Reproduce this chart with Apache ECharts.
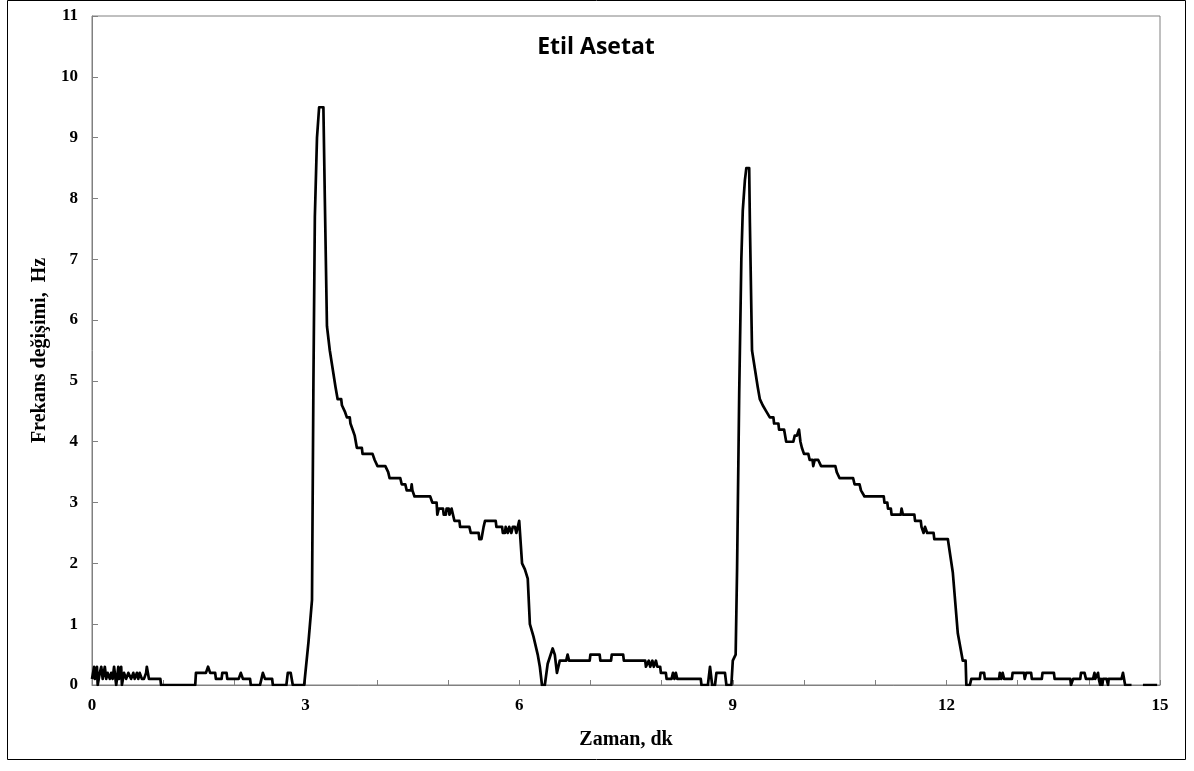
<!DOCTYPE html>
<html>
<head>
<meta charset="utf-8">
<script src="https://cdn.jsdelivr.net/npm/echarts@6/dist/echarts.min.js"></script>
<style>html,body{margin:0;padding:0;background:#fff;}#chart{width:1194px;height:771px;}</style>
</head>
<body>
<div id="chart"></div>
<script>
// Time (minutes)
const timeMin = [
 0.00,0.03,0.04,0.07,0.08,0.11,0.13,0.15,0.18,0.20,0.22,0.25,0.27,0.29,0.31,0.34,0.37,0.38,0.41,0.42,
 0.45,0.48,0.51,0.53,0.55,0.58,0.60,0.63,0.65,0.67,0.70,0.73,0.76,0.77,0.80,0.83,0.86,0.90,0.93,0.96,0.97,
 1.45,1.46,1.60,1.63,1.66,1.73,1.74,1.82,1.83,1.89,1.90,2.06,2.09,2.12,2.22,2.23,2.36,2.40,2.43,2.53,2.54,
 2.73,2.75,2.79,2.82,2.98,
 3.04,3.09,3.11,3.13,3.16,3.19,3.25,3.27,3.30,3.31,3.34,3.38,3.42,3.45,3.50,3.51,3.55,3.58,3.62,3.63,3.66,
 3.69,3.72,3.79,3.80,3.94,3.97,4.01,4.12,4.16,4.18,4.33,4.35,4.40,4.42,4.48,4.49,4.50,4.53,4.75,4.78,4.84,
 4.85,4.87,4.93,4.94,4.97,4.98,5.01,5.02,5.05,5.07,5.09,5.16,5.17,5.30,5.32,5.43,5.44,5.47,5.50,5.52,5.67,
 5.68,5.76,5.77,5.80,5.81,5.84,5.86,5.89,5.91,5.94,5.96,5.98,6.00,6.01,
 6.04,6.08,6.12,6.15,6.20,6.26,6.29,6.32,6.36,6.40,6.47,6.50,6.53,6.57,6.66,6.68,6.70,6.99,7.00,7.13,7.14,
 7.29,7.30,7.46,7.47,7.77,7.78,7.82,7.84,7.87,7.89,7.92,7.94,7.98,7.99,8.06,8.07,8.14,8.16,8.18,8.20,8.22,
 8.55,8.56,8.65,8.68,8.71,8.75,8.77,8.89,8.91,8.98,9.00,9.04,
 9.06,9.09,9.12,9.14,9.17,9.19,9.23,9.24,9.27,9.31,9.35,9.38,9.42,9.47,9.52,9.57,9.58,9.64,9.65,9.72,9.75,
 9.85,9.87,9.90,9.93,9.95,9.97,10.00,10.06,10.08,10.12,10.13,10.15,10.20,10.24,10.44,10.46,10.50,10.69,
 10.71,10.78,10.80,10.85,11.12,11.13,11.17,11.18,11.22,11.23,11.36,11.37,11.39,11.55,11.56,11.64,11.65,11.68,11.70,11.73,11.82,11.83,12.02,
 12.09,12.16,12.23,12.27,12.28,12.33,12.35,12.47,12.48,12.53,12.54,12.74,12.75,12.77,12.79,12.81,12.92,
 12.93,13.09,13.10,13.12,13.19,13.20,13.34,13.35,13.51,13.52,13.74,13.75,13.78,13.88,13.89,13.94,13.96,
 14.06,14.08,14.09,14.13,14.14,14.16,14.17,14.19,14.20,14.25,14.27,14.28,14.40,14.46,14.48,14.51,14.60,
 14.68,14.76,14.96
];
// Frequency change (Hz); null = gap in the trace
const freqHz = [
 0.1,0.3,0.1,0.3,0.0,0.2,0.3,0.1,0.3,0.1,0.2,0.1,0.2,0.1,0.3,0.0,0.3,0.1,0.3,0.0,
 0.2,0.1,0.2,0.2,0.1,0.2,0.1,0.2,0.1,0.2,0.1,0.1,0.2,0.3,0.1,0.1,0.1,0.1,0.1,0.1,0.0,
 0.0,0.2,0.2,0.3,0.2,0.2,0.1,0.1,0.2,0.2,0.1,0.1,0.2,0.1,0.1,0.0,0.0,0.2,0.1,0.1,0.0,
 0.0,0.2,0.2,0.0,0.0,
 0.7,1.4,5.0,7.7,9.0,9.5,9.5,8.0,5.9,5.8,5.5,5.2,4.9,4.7,4.7,4.6,4.5,4.4,4.4,4.3,4.2,
 4.1,3.9,3.9,3.8,3.8,3.7,3.6,3.6,3.5,3.4,3.4,3.3,3.3,3.2,3.2,3.3,3.2,3.1,3.1,3.0,3.0,
 2.8,2.9,2.9,2.8,2.8,2.9,2.9,2.8,2.9,2.9,2.7,2.7,2.6,2.6,2.5,2.5,2.4,2.4,2.6,2.7,2.7,
 2.6,2.6,2.5,2.5,2.6,2.5,2.6,2.5,2.6,2.6,2.5,2.6,2.7,2.7,
 2.0,1.9,1.75,1.0,0.8,0.5,0.3,0.0,0.0,0.35,0.6,0.5,0.2,0.4,0.4,0.5,0.4,0.4,0.5,0.5,0.4,
 0.4,0.5,0.5,0.4,0.4,0.3,0.4,0.3,0.4,0.3,0.4,0.3,0.3,0.2,0.2,0.1,0.1,0.2,0.1,0.2,0.1,
 0.1,0.0,0.0,0.3,0.0,0.0,0.2,0.2,0.0,0.0,0.4,0.5,
 1.9,4.8,7.0,7.8,8.3,8.5,8.5,7.6,5.5,5.2,4.9,4.7,4.6,4.5,4.4,4.4,4.3,4.3,4.2,4.2,4.0,
 4.0,4.1,4.1,4.2,4.0,3.9,3.8,3.8,3.7,3.7,3.6,3.7,3.7,3.6,3.6,3.5,3.4,3.4,
 3.3,3.3,3.2,3.1,3.1,3.0,3.0,2.9,2.9,2.8,2.8,2.9,2.8,2.8,2.7,2.7,2.6,2.5,2.6,2.5,2.5,2.4,2.4,
 1.85,0.85,0.4,0.4,0.0,0.0,0.1,0.1,0.2,0.2,0.1,0.1,0.2,0.1,0.2,0.1,0.1,
 0.2,0.2,0.1,0.2,0.2,0.1,0.1,0.2,0.2,0.1,0.1,0.0,0.1,0.1,0.2,0.2,0.1,
 0.1,0.2,0.1,0.2,0.1,0.0,0.1,0.0,0.1,0.1,0.0,0.1,0.1,0.1,0.2,0.0,0.0,
 null,0.0,0.0
];
const xTicks = [0, 3, 6, 9, 12, 15];
const yTicks = [0,1,2,3,4,5,6,7,8,9,10,11];
const titleText = 'Etil Asetat';
const xName = 'Zaman, dk';
const yName = 'Frekans değişimi,  Hz';

const seriesData = timeMin.map((t, i) => [t, freqHz[i] === null ? '-' : freqHz[i]]);

const chart = echarts.init(document.getElementById('chart'), null, {renderer: 'canvas'});
const serif = '"Liberation Serif", "Times New Roman", serif';
chart.setOption({
  animation: false,
  backgroundColor: '#ffffff',
  graphic: [{
    type: 'rect', shape: {x: 7.5, y: 0.5, width: 1178, height: 759},
    style: {fill: 'none', stroke: '#000', lineWidth: 1}, silent: true, z: -1
  }, {
    type: 'text', x: 596, y: 47, silent: true,
    style: {text: titleText, textAlign: 'center', textVerticalAlign: 'middle',
      font: 'bold 23px "Open Sans", sans-serif', fill: '#000'}
  }],
  grid: {left: 92, right: 34, top: 16, bottom: 86, show: true, borderColor: '#808080', borderWidth: 1, backgroundColor: 'transparent'},
  xAxis: {
    type: 'value', min: 0, max: 15, interval: 1,
    name: xName, nameLocation: 'middle', nameGap: 45,
    nameTextStyle: {fontFamily: serif, fontWeight: 'bold', fontSize: 20, color: '#000'},
    axisLine: {show: true, lineStyle: {color: '#808080', width: 1}},
    axisTick: {show: true, inside: true, length: 5, lineStyle: {color: '#808080'}},
    axisLabel: {
      margin: 12, fontFamily: serif, fontWeight: 'bold', fontSize: 17, color: '#000',
      formatter: v => (xTicks.indexOf(v) >= 0 ? String(v) : '')
    },
    splitLine: {show: false}
  },
  yAxis: {
    type: 'value', min: 0, max: 11, interval: 1,
    name: yName, nameLocation: 'middle', nameGap: 42, nameRotate: 90,
    nameTextStyle: {fontFamily: serif, fontWeight: 'bold', fontSize: 20, color: '#000'},
    axisLine: {show: true, lineStyle: {color: '#808080', width: 1}},
    axisTick: {show: true, inside: true, length: 6, lineStyle: {color: '#808080'}},
    axisLabel: {
      margin: 14, fontFamily: serif, fontWeight: 'bold', fontSize: 17, color: '#000',
      formatter: v => (yTicks.indexOf(v) >= 0 ? String(v) : '')
    },
    splitLine: {show: false}
  },
  series: [{
    type: 'line', data: seriesData, showSymbol: false, symbol: 'none',
    connectNulls: false,
    lineStyle: {color: '#000', width: 2.7, join: 'round'},
    clip: true
  }]
});
</script>
</body>
</html>
